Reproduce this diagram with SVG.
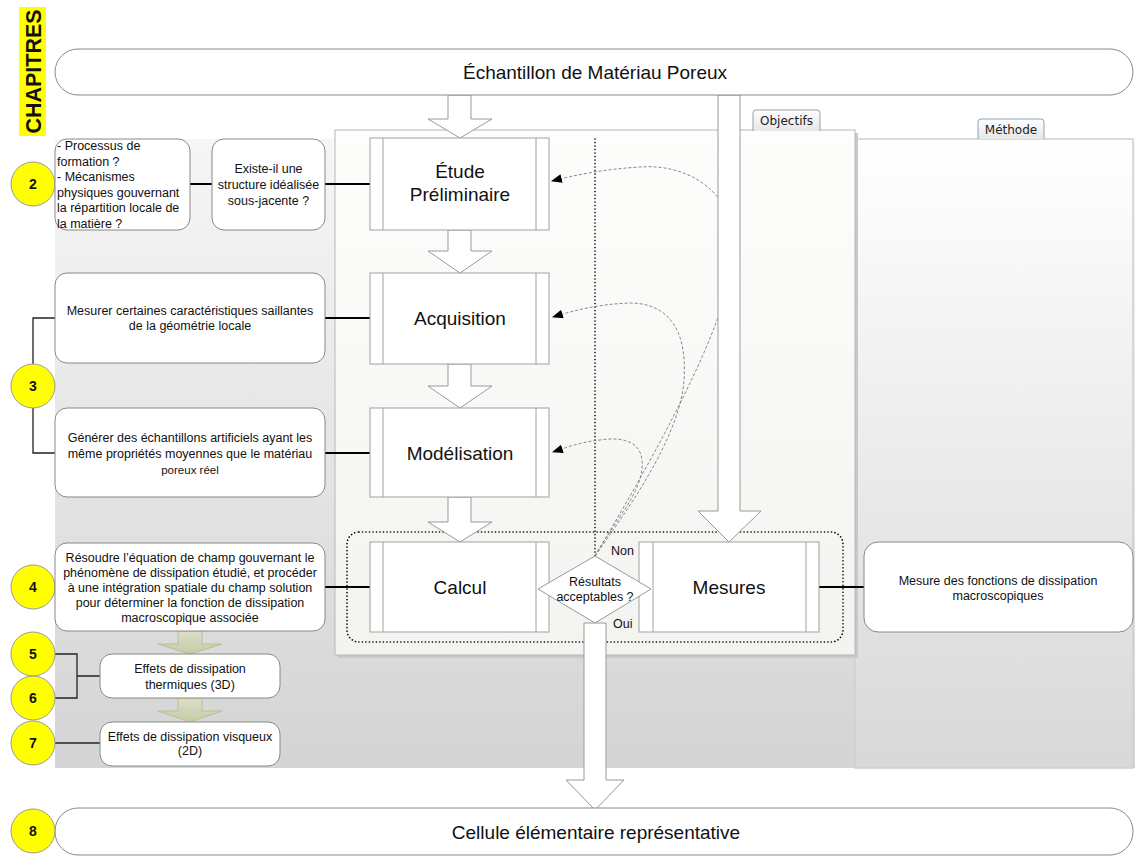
<svg xmlns="http://www.w3.org/2000/svg" width="1140" height="857" viewBox="0 0 1140 857">
<defs>
<linearGradient id="bg" x1="0" y1="0" x2="0" y2="1"><stop offset="0" stop-color="#f6f6f6"/><stop offset="1" stop-color="#d4d4d4"/></linearGradient>
<linearGradient id="meth" x1="0" y1="0" x2="0" y2="1"><stop offset="0" stop-color="#ffffff"/><stop offset="1" stop-color="#d8d8d8"/></linearGradient>
<linearGradient id="obj" x1="0" y1="0" x2="0" y2="1"><stop offset="0" stop-color="#fdfdfc"/><stop offset="1" stop-color="#f3f3f0"/></linearGradient>
<linearGradient id="tab" x1="0" y1="0" x2="0" y2="1"><stop offset="0" stop-color="#ffffff"/><stop offset="1" stop-color="#e6e6e6"/></linearGradient>
<linearGradient id="olive" x1="0" y1="0" x2="0" y2="1"><stop offset="0" stop-color="#dcdfc6"/><stop offset="1" stop-color="#c6cba6"/></linearGradient>
<marker id="ah" viewBox="0 0 10 8" refX="9" refY="4" markerWidth="11" markerHeight="9" markerUnits="userSpaceOnUse" orient="auto"><path d="M0,0 L10,4 L0,8 z" fill="#000"/></marker>
</defs>
<style>
text{font-family:"Liberation Sans",Arial,sans-serif;fill:#111}
.t{font-size:12.5px}
.big{font-size:19px}
.num{font-size:14px;font-weight:bold;text-anchor:middle}
.tabt{font-family:"DejaVu Sans",Verdana,sans-serif;font-size:12px;text-anchor:middle;fill:#222}
.node{fill:#fff;stroke:#888;stroke-width:1}
.proc{fill:#fff;stroke:#a0a0a0;stroke-width:1}
.inner{stroke:#a0a0a0;stroke-width:1}
.circ{fill:#ffff00;stroke:#999;stroke-width:1}
.blk{fill:#fff;stroke:#999;stroke-width:1}
.olv{fill:url(#olive);stroke:#b9be98;stroke-width:1}
.con{stroke:#000;stroke-width:2;fill:none}
.br{stroke:#222;stroke-width:1.3;fill:none}
.dot{stroke:#000;stroke-width:1.6;fill:none;stroke-dasharray:0.1 3.4;stroke-linecap:round}
.dash{stroke:#7a7a7a;stroke-width:0.9;fill:none;stroke-dasharray:3 2}
.c{text-anchor:middle}
</style>
<rect x="0" y="0" width="1140" height="857" fill="#fff"/>
<g id="lanes">
<rect x="55" y="139" width="1080" height="629" fill="url(#bg)"/>
<rect x="855" y="139" width="278" height="629" fill="url(#meth)" stroke="#cfcfcf" stroke-width="1.5"/>
<rect x="338" y="133" width="520" height="525" fill="#c8c8c8"/>
<rect x="335" y="130" width="520" height="525" fill="url(#obj)" stroke="#b8b8b8" stroke-width="1"/>
<path d="M753,131 V113 Q753,110 756,110 H817 Q820,110 820,113 V131" fill="url(#tab)" stroke="#8fa3b5" stroke-width="1"/>
<text class="tabt" x="786.5" y="125">Objectifs</text>
<path d="M978,139 V122 Q978,119 981,119 H1041 Q1044,119 1044,122 V139" fill="url(#tab)" stroke="#8fa3b5" stroke-width="1"/>
<text class="tabt" x="1011" y="134">Méthode</text>
</g>
<g id="chapitres">
<rect x="19" y="7" width="27" height="129" fill="#ffff00"/>
<text x="0" y="0" transform="translate(40.5,71.5) rotate(-90)" text-anchor="middle" font-size="21.5" font-weight="bold">CHAPITRES</text>
</g>
<g id="connectors">
<line class="con" x1="190" y1="184" x2="212" y2="184"/>
<line class="con" x1="325" y1="184" x2="370" y2="184"/>
<line class="con" x1="325" y1="318" x2="370" y2="318"/>
<line class="con" x1="325" y1="453" x2="370" y2="453"/>
<line class="con" x1="325" y1="587" x2="370" y2="587"/>
<line class="con" x1="819" y1="587" x2="864" y2="587"/>
<path class="br" d="M55,318 H33 V364 M33,408 V453 H55"/>
<path class="br" d="M55,654 H77 V698 H55 M77,676 H100"/>
<path class="br" d="M55,743 H100"/>
<rect class="dot" x="347" y="532" width="496" height="110" rx="12"/>
<line class="dot" x1="595" y1="139" x2="595" y2="556"/>
<path class="dash" marker-end="url(#ah)" d="M595,556 C640,480 716,350 732,270 C746,200 695,163 640,167 C605,169 575,175 552,181"/>
<path class="dash" marker-end="url(#ah)" d="M595,556 C620,520 680,440 684,380 C688,320 660,303 630,303 C600,304 575,310 553,317"/>
<path class="dash" marker-end="url(#ah)" d="M595,556 C615,520 645,490 642,460 C640,440 620,437 600,440 C580,442 565,448 553,452"/>
</g>
<g id="arrows">
<polygon class="blk" points="448,95 471,95 471,119 492,119 460,138 428,119 448,119"/>
<polygon class="blk" points="448,230 471,230 471,251 492,251 460,273 428,251 448,251"/>
<polygon class="blk" points="448,364 471,364 471,386 492,386 460,408 428,386 448,386"/>
<polygon class="blk" points="448,497 471,497 471,522 492,522 460,542 428,522 448,522"/>
<polygon class="blk" points="718,95 740,95 740,511 761,511 729,542 698,511 718,511"/>
<polygon class="blk" points="584,623 606,623 606,780 624,780 595,810 566,780 584,780"/>
<polygon class="olv" points="178,631 202,631 202,644 222,644 190,654 158,644 178,644"/>
<polygon class="olv" points="178,698 202,698 202,711 222,711 190,722 158,711 178,711"/>
</g>
<g id="n-echantillon">
<rect class="node" x="55" y="49" width="1078" height="46" rx="23" stroke="#999"/>
<text class="big c" x="595" y="79">Échantillon de Matériau Poreux</text>
</g>
<g id="n-cellule">
<rect class="node" x="55" y="808" width="1078" height="47" rx="23" stroke="#999"/>
<text class="big c" x="596" y="838.5">Cellule élémentaire représentative</text>
</g>
<g id="c2"><circle class="circ" cx="33" cy="184" r="22"/><text class="num" x="33" y="189">2</text></g>
<g id="c3"><circle class="circ" cx="33" cy="386" r="22"/><text class="num" x="33" y="391">3</text></g>
<g id="c4"><circle class="circ" cx="33" cy="587" r="22"/><text class="num" x="33" y="592">4</text></g>
<g id="c5"><circle class="circ" cx="33" cy="654" r="22"/><text class="num" x="33" y="659">5</text></g>
<g id="c6"><circle class="circ" cx="33" cy="698" r="22"/><text class="num" x="33" y="703">6</text></g>
<g id="c7"><circle class="circ" cx="33" cy="743" r="22"/><text class="num" x="33" y="748">7</text></g>
<g id="c8"><circle class="circ" cx="33" cy="831" r="22"/><text class="num" x="33" y="836">8</text></g>
<g id="n-processus">
<rect class="node" x="55" y="139" width="135" height="91" rx="12"/>
<text class="t" x="57" y="150">- Processus de</text>
<text class="t" x="57" y="165.5">formation ?</text>
<text class="t" x="57" y="181">- Mécanismes</text>
<text class="t" x="57" y="196.5">physiques gouvernant</text>
<text class="t" x="57" y="212">la répartition locale de</text>
<text class="t" x="57" y="227.5">la matière ?</text>
</g>
<g id="n-existe">
<rect class="node" x="212" y="139" width="113" height="91" rx="12"/>
<text class="t c" x="268.5" y="172.5">Existe-il une</text>
<text class="t c" x="268.5" y="188.5">structure idéalisée</text>
<text class="t c" x="268.5" y="204.5">sous-jacente ?</text>
</g>
<g id="n-mesurer">
<rect class="node" x="55" y="273" width="270" height="90" rx="12"/>
<text class="t c" x="190" y="315">Mesurer certaines caractéristiques saillantes</text>
<text class="t c" x="190" y="330">de la géométrie locale</text>
</g>
<g id="n-generer">
<rect class="node" x="55" y="408" width="270" height="89" rx="12"/>
<text class="t c" x="190" y="441.5">Générer des échantillons artificiels ayant les</text>
<text class="t c" x="190" y="457.5">même propriétés moyennes que le matériau</text>
<text class="c" x="190" y="473.5" style="font-size:11.5px">poreux réel</text>
</g>
<g id="n-resoudre">
<rect class="node" x="55" y="543" width="270" height="88" rx="12"/>
<text class="t c" x="190" y="561.5">Résoudre l’équation de champ gouvernant le</text>
<text class="t c" x="190" y="576.5">phénomène de dissipation étudié, et procéder</text>
<text class="t c" x="190" y="591.5">à une intégration spatiale du champ solution</text>
<text class="t c" x="190" y="606.5">pour déterminer la fonction de dissipation</text>
<text class="t c" x="190" y="621.5">macroscopique associée</text>
</g>
<g id="n-thermiques">
<rect class="node" x="100" y="654" width="180" height="44" rx="12"/>
<text class="t c" x="190" y="672.5">Effets de dissipation</text>
<text class="t c" x="190" y="689">thermiques (3D)</text>
</g>
<g id="n-visqueux">
<rect class="node" x="100" y="722" width="180" height="44" rx="12"/>
<text class="t c" x="190" y="740.5">Effets de dissipation visqueux</text>
<text class="t c" x="190" y="755">(2D)</text>
</g>
<g id="p-etude">
<rect class="proc" x="370" y="138" width="179" height="92"/>
<line class="inner" x1="383" y1="138" x2="383" y2="230"/><line class="inner" x1="536" y1="138" x2="536" y2="230"/>
<text class="big c" x="460" y="178">Étude</text>
<text class="big c" x="460" y="201">Préliminaire</text>
</g>
<g id="p-acquisition">
<rect class="proc" x="370" y="273" width="179" height="91"/>
<line class="inner" x1="383" y1="273" x2="383" y2="364"/><line class="inner" x1="536" y1="273" x2="536" y2="364"/>
<text class="big c" x="460" y="325">Acquisition</text>
</g>
<g id="p-modelisation">
<rect class="proc" x="370" y="408" width="179" height="89"/>
<line class="inner" x1="383" y1="408" x2="383" y2="497"/><line class="inner" x1="536" y1="408" x2="536" y2="497"/>
<text class="big c" x="460" y="459.5">Modélisation</text>
</g>
<g id="p-calcul">
<rect class="proc" x="370" y="542" width="179" height="90"/>
<line class="inner" x1="383" y1="542" x2="383" y2="632"/><line class="inner" x1="536" y1="542" x2="536" y2="632"/>
<text class="big c" x="460" y="594">Calcul</text>
</g>
<g id="p-mesures">
<rect class="proc" x="639" y="542" width="180" height="90"/>
<line class="inner" x1="653" y1="542" x2="653" y2="632"/><line class="inner" x1="806" y1="542" x2="806" y2="632"/>
<text class="big c" x="729" y="594">Mesures</text>
</g>
<g id="d-resultats">
<polygon points="595,556 651,589 595,623 538,589" fill="#fff" stroke="#999" stroke-width="1"/>
<text class="t c" x="595" y="586">Résultats</text>
<text class="t c" x="595" y="601">acceptables ?</text>
<text class="t" x="611" y="555">Non</text>
<text class="t" x="613" y="628">Oui</text>
</g>
<g id="n-mesure-fonctions">
<rect class="node" x="864" y="542" width="269" height="90" rx="14"/>
<text class="t c" x="998" y="584.5">Mesure des fonctions de dissipation</text>
<text class="t c" x="998" y="599.5">macroscopiques</text>
</g>
</svg>
